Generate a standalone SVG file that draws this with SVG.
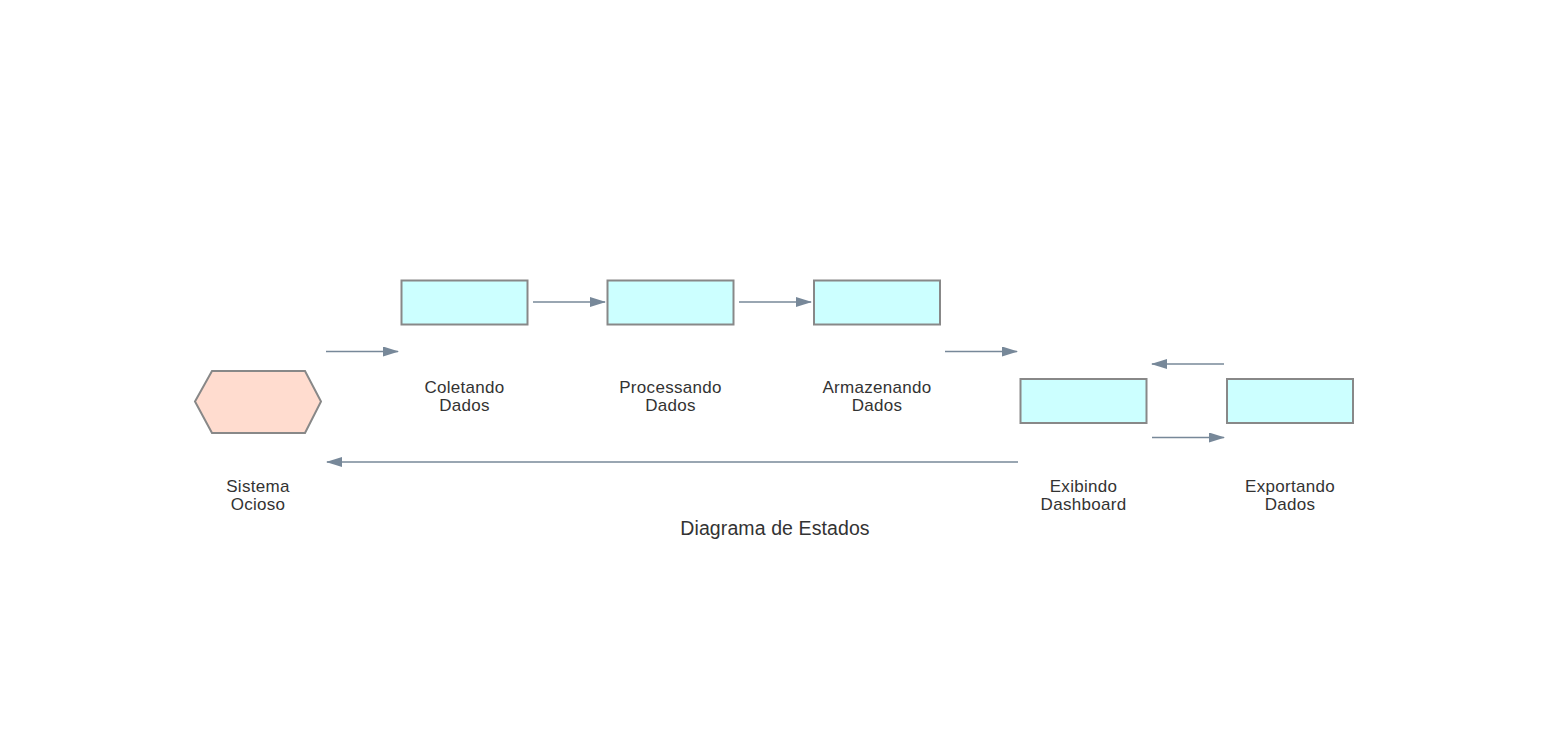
<svg xmlns="http://www.w3.org/2000/svg" width="1550" height="735" viewBox="0 0 1550 735">
<style>
.state{fill:#ccffff;stroke:#888888;stroke-width:2}
.idle{fill:#ffdccf;stroke:#888888;stroke-width:2}
.lbl{font-family:"Liberation Sans",Arial,sans-serif;font-size:17px;letter-spacing:0.3px;fill:#333333;text-anchor:middle}
.title{font-family:"Liberation Sans",Arial,sans-serif;font-size:19.5px;letter-spacing:0.1px;fill:#333333;text-anchor:middle}
.edge{stroke:#778899;stroke-width:1.5;fill:none;marker-end:url(#arr)}
</style>
<defs>
<marker id="arr" markerWidth="16" markerHeight="10" refX="15" refY="5" orient="auto" markerUnits="userSpaceOnUse">
<path d="M0,0 L16,5 L0,10 Z" fill="#778899"/>
</marker>
</defs>
<rect width="1550" height="735" fill="#ffffff"/>
<g id="connectors">
<line class="edge" x1="326" y1="351.5" x2="398" y2="351.5"/>
<line class="edge" x1="533" y1="302" x2="605" y2="302"/>
<line class="edge" x1="739" y1="302" x2="811" y2="302"/>
<line class="edge" x1="945" y1="351.5" x2="1017" y2="351.5"/>
<line class="edge" x1="1224" y1="364" x2="1152" y2="364"/>
<line class="edge" x1="1152" y1="437.5" x2="1224" y2="437.5"/>
<line class="edge" x1="1018" y1="462" x2="327" y2="462"/>
</g>
<g id="idle">
<polygon class="idle" points="195,401.5 212,371 305,371 321,401.5 305,433 212,433"/>
<text class="lbl" x="258" y="492">Sistema</text>
<text class="lbl" x="258" y="510">Ocioso</text>
</g>
<g id="coletando">
<rect class="state" x="401.5" y="280.5" width="126" height="44"/>
<text class="lbl" x="464.5" y="393">Coletando</text>
<text class="lbl" x="464.5" y="411">Dados</text>
</g>
<g id="processando">
<rect class="state" x="607.5" y="280.5" width="126" height="44"/>
<text class="lbl" x="670.5" y="393">Processando</text>
<text class="lbl" x="670.5" y="411">Dados</text>
</g>
<g id="armazenando">
<rect class="state" x="814" y="280.5" width="126" height="44"/>
<text class="lbl" x="877" y="393">Armazenando</text>
<text class="lbl" x="877" y="411">Dados</text>
</g>
<g id="exibindo">
<rect class="state" x="1020.5" y="379" width="126" height="44"/>
<text class="lbl" x="1083.5" y="492">Exibindo</text>
<text class="lbl" x="1083.5" y="510">Dashboard</text>
</g>
<g id="exportando">
<rect class="state" x="1227" y="379" width="126" height="44"/>
<text class="lbl" x="1290" y="492">Exportando</text>
<text class="lbl" x="1290" y="510">Dados</text>
</g>
<text class="title" x="775" y="535">Diagrama de Estados</text>
</svg>
